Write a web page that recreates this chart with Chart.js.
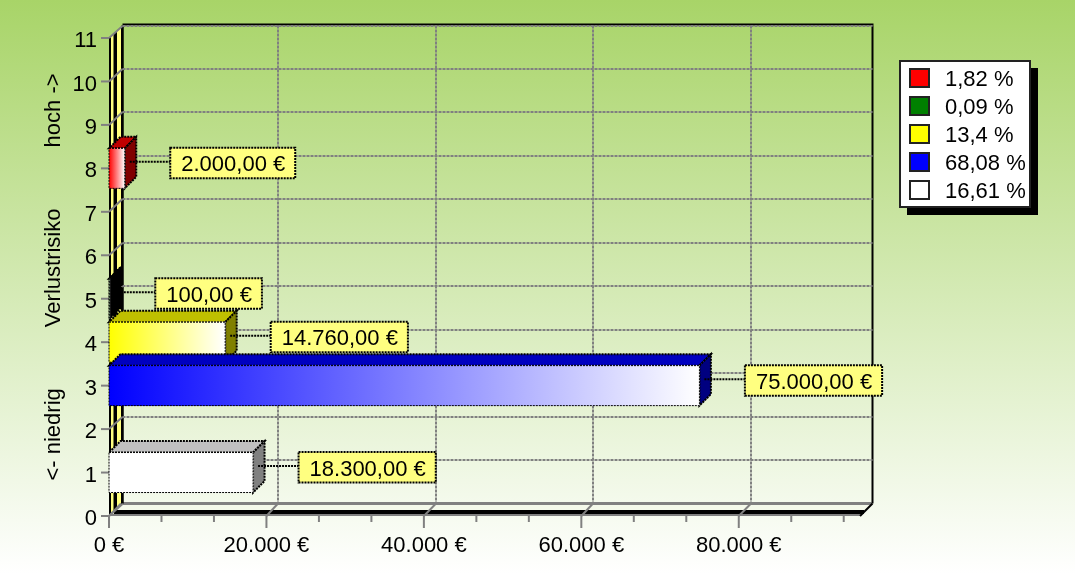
<!DOCTYPE html>
<html>
<head>
<meta charset="utf-8">
<title>Verlustrisiko</title>
<script src="https://cdn.jsdelivr.net/npm/chart.js@4"></script>
<style>
    html, body { margin: 0; padding: 0; background: #fff; }
    canvas { display: block; }
</style>
</head>
<body>
<canvas id="riskChart" width="1075" height="574"></canvas>
<script>
const riskLevels = [8, 5, 4, 3, 1];
const amounts = [2000, 100, 14760, 75000, 18300];
const amountLabels = ['2.000,00 €', '100,00 €', '14.760,00 €', '75.000,00 €', '18.300,00 €'];
const shareLabels = ['1,82 %', '0,09 %', '13,4 %', '68,08 %', '16,61 %'];
const xTickValues = [0, 20000, 40000, 60000, 80000];
const xMinorValues = [6667, 13333, 26667, 33333, 46667, 53333, 66667, 73333, 86667, 93333];
const xMax = 95400;
const yMax = 11;
const yTitle = '<- niedrig          Verlustrisiko          hoch ->';

const frontColors = ['#ff0000', '#008000', '#ffff00', '#0000ff', '#ffffff'];
const topColors = ['#c00000', '#000000', '#bfbf00', '#0000c0', '#c0c0c0'];
const sideColors = ['#800000', '#000000', '#808000', '#000080', '#808080'];

const FONT = '"Liberation Sans", Arial, sans-serif';
const FONT_SIZE = 22;
const GRID = '#808080';
const NOTE = '#ffff80';
const WALL_DX = 13.5;
const WALL_DY = -12.5;
const BAR_DEPTH = 11.5;

function line(ctx, x1, y1, x2, y2, color, width, dash) {
    ctx.save();
    ctx.strokeStyle = color;
    ctx.lineWidth = width;
    ctx.setLineDash(dash || []);
    ctx.beginPath();
    ctx.moveTo(x1, y1);
    ctx.lineTo(x2, y2);
    ctx.stroke();
    ctx.restore();
}

function poly(ctx, points, fill, stroke) {
    ctx.beginPath();
    points.forEach((p, i) => i ? ctx.lineTo(p[0], p[1]) : ctx.moveTo(p[0], p[1]));
    ctx.closePath();
    ctx.fillStyle = fill;
    ctx.fill();
    if (stroke) {
        ctx.save();
        ctx.strokeStyle = stroke;
        ctx.lineWidth = 2;
        ctx.setLineDash([2, 1]);
        ctx.stroke();
        ctx.restore();
    }
}

// walls, floor, back grid and axis ticks: the library has no 3D bars
const stagePlugin = {
    id: 'stage',
    beforeDraw(chart) {
        const ctx = chart.ctx;
        const { left, right, top, bottom } = chart.chartArea;
        const xs = chart.scales.x;
        const ys = chart.scales.y;

        const bg = ctx.createLinearGradient(0, 0, 0, chart.height);
        bg.addColorStop(0, '#a8d468');
        bg.addColorStop(1, '#ffffff');
        ctx.fillStyle = bg;
        ctx.fillRect(0, 0, chart.width, chart.height);

        // left wall
        const backTop = top + WALL_DY;
        const backBottom = bottom + WALL_DY;
        ctx.save();
        ctx.beginPath();
        ctx.moveTo(left, top);
        ctx.lineTo(left + WALL_DX, backTop);
        ctx.lineTo(left + WALL_DX, backBottom);
        ctx.lineTo(left, bottom);
        ctx.closePath();
        ctx.clip();
        ctx.fillStyle = '#000';
        ctx.fillRect(left, backTop, WALL_DX, bottom - backTop);
        ctx.fillStyle = NOTE;
        ctx.fillRect(left + 2, backTop, 2.5, bottom - backTop);
        ctx.fillRect(left + 8, backTop, 4, bottom - backTop);
        ctx.restore();

        // floor
        poly(ctx, [[left + WALL_DX, backBottom], [right + WALL_DX - 2, backBottom], [right, bottom], [left, bottom]], '#f4f9ea');
        line(ctx, left + 5, bottom - 4, right + 4, bottom - 4, '#000', 4);
        line(ctx, left, bottom - 1, right, bottom - 1, GRID, 2);
        line(ctx, left + WALL_DX, backBottom, right + WALL_DX - 2, backBottom, GRID, 3);
        line(ctx, right + WALL_DX - 1, backBottom, right, bottom, '#000', 2);

        // outline of the back wall
        line(ctx, left + WALL_DX, backTop - 1, right + WALL_DX, backTop - 1, '#000', 2);
        line(ctx, right + WALL_DX - 1, backTop, right + WALL_DX - 1, backBottom, '#000', 2);
        line(ctx, left + WALL_DX, backTop, left + WALL_DX, backBottom, '#000', 2.5);

        // horizontal grid with its ticks
        ys.ticks.forEach(t => {
            const y = ys.getPixelForValue(t.value);
            const backY = Math.round(y + WALL_DY);
            line(ctx, left - 8, y, left, y, GRID, 2);
            line(ctx, left, y, left + WALL_DX, backY, GRID, 2);
            if (t.value > 0) {
                line(ctx, left + WALL_DX, backY, right + WALL_DX - 1, backY, GRID, 2, [3, 1]);
            }
        });

        // vertical grid with its ticks
        xTickValues.forEach(v => {
            const x = xs.getPixelForValue(v);
            const backX = Math.round(x + 12);
            line(ctx, x, bottom, x, bottom + 12, GRID, 2);
            line(ctx, x, bottom, backX, backBottom, GRID, 2);
            if (v > 0) {
                line(ctx, backX, backTop, backX, backBottom, GRID, 2, [3, 1]);
            }
        });
        xMinorValues.forEach(v => {
            const x = xs.getPixelForValue(v);
            line(ctx, x, bottom, x, bottom + 6, GRID, 2);
        });
    }
};

// top and side face go down before the library paints the front face
const barFacePlugin = {
    id: 'barFaces',
    beforeDatasetDraw(chart, args) {
        const ctx = chart.ctx;
        const bar = args.meta.data[0];
        const i = args.index;
        const y0 = bar.y - bar.height / 2;
        const y1 = bar.y + bar.height / 2;
        const d = BAR_DEPTH;
        poly(ctx, [[bar.base, y0], [bar.x, y0], [bar.x + d, y0 - d], [bar.base + d, y0 - d]], topColors[i], '#000');
        poly(ctx, [[bar.x, y0], [bar.x + d, y0 - d], [bar.x + d, y1 - d], [bar.x, y1]], sideColors[i], '#000');
    },
    afterDatasetDraw(chart, args) {
        const ctx = chart.ctx;
        const bar = args.meta.data[0];
        ctx.save();
        ctx.strokeStyle = '#000';
        ctx.lineWidth = 1;
        ctx.setLineDash([2, 1]);
        ctx.strokeRect(bar.base, bar.y - bar.height / 2, bar.x - bar.base, bar.height);
        ctx.restore();
    }
};

// yellow value notes and the legend card
const notePlugin = {
    id: 'notes',
    afterDatasetsDraw(chart) {
        const ctx = chart.ctx;
        ctx.save();
        ctx.font = `${FONT_SIZE}px ${FONT}`;
        ctx.textBaseline = 'middle';

        amountLabels.forEach((label, i) => {
            const bar = chart.getDatasetMeta(i).data[0];
            const boxX = bar.x + 45.5;
            const boxY = bar.y - 20.5;
            const boxW = ctx.measureText(label).width + 21;
            line(ctx, bar.x + 5, bar.y - 6.5, boxX, bar.y - 6.5, '#000', 2, [2, 1]);
            ctx.fillStyle = NOTE;
            ctx.fillRect(boxX, boxY, boxW, 30.5);
            ctx.strokeStyle = '#000';
            ctx.lineWidth = 2;
            ctx.setLineDash([2, 1]);
            ctx.strokeRect(boxX, boxY, boxW, 30.5);
            ctx.setLineDash([]);
            ctx.fillStyle = '#000';
            ctx.textAlign = 'left';
            ctx.fillText(label, boxX + 11, boxY + 17.5);
        });

        ctx.fillStyle = '#000';
        ctx.fillRect(907, 68, 131, 147);
        ctx.fillStyle = '#fff';
        ctx.fillRect(900, 61, 130, 146);
        ctx.strokeStyle = '#222';
        ctx.lineWidth = 2;
        ctx.strokeRect(900, 61, 130, 146);
        shareLabels.forEach((label, i) => {
            const y = 68 + i * 28;
            ctx.fillStyle = frontColors[i];
            ctx.fillRect(910, y + 1, 19, 18);
            ctx.strokeStyle = '#222';
            ctx.strokeRect(910, y + 1, 19, 18);
            ctx.fillStyle = '#000';
            ctx.fillText(label, 945, y + 12);
        });
        ctx.restore();
    }
};

function barGradient(context, i) {
    const chart = context.chart;
    if (context.type !== 'data' || !chart.chartArea) return frontColors[i];
    const xs = chart.scales.x;
    const g = chart.ctx.createLinearGradient(xs.getPixelForValue(0), 0, xs.getPixelForValue(amounts[i]), 0);
    g.addColorStop(0, frontColors[i]);
    g.addColorStop(1, '#ffffff');
    return g;
}

new Chart(document.getElementById('riskChart'), {
    type: 'bar',
    data: {
        datasets: riskLevels.map((level, i) => ({
            label: shareLabels[i],
            data: [{ x: amounts[i], y: level }],
            backgroundColor: context => barGradient(context, i),
            barThickness: 40,
            order: riskLevels.length - i
        }))
    },
    plugins: [stagePlugin, barFacePlugin, notePlugin],
    options: {
        indexAxis: 'y',
        responsive: false,
        animation: false,
        grouped: false,
        layout: { padding: { left: 41, right: 215, top: 38, bottom: 18 } },
        plugins: {
            legend: { display: false },
            tooltip: { enabled: false }
        },
        scales: {
            x: {
                type: 'linear',
                min: 0,
                max: xMax,
                afterFit(scale) { scale.height = 40; },
                afterBuildTicks(scale) { scale.ticks = xTickValues.map(value => ({ value })); },
                border: { display: false },
                grid: { display: false, drawTicks: false },
                ticks: {
                    maxRotation: 0,
                    autoSkip: false,
                    padding: 17,
                    color: '#000',
                    font: { family: FONT, size: FONT_SIZE },
                    callback: v => `${v.toLocaleString('de-DE')} €`
                }
            },
            y: {
                type: 'linear',
                min: 0,
                max: yMax,
                offset: false,
                afterFit(scale) { scale.width = 68; },
                // glyphs sit a bit high with baseline middle, push them back onto the ticks
                afterUpdate(scale) {
                    const drawLabels = scale.drawLabels.bind(scale);
                    scale.drawLabels = area => {
                        scale.ctx.save();
                        scale.ctx.translate(0, 1.5);
                        drawLabels(area);
                        scale.ctx.restore();
                    };
                },
                border: { display: false },
                grid: { display: false, drawTicks: false, offset: false },
                ticks: {
                    stepSize: 1,
                    autoSkip: false,
                    padding: 12,
                    color: '#000',
                    font: { family: FONT, size: FONT_SIZE }
                },
                title: {
                    display: true,
                    text: yTitle,
                    color: '#000',
                    padding: 0,
                    font: { family: FONT, size: FONT_SIZE }
                }
            }
        }
    }
});
</script>
</body>
</html>
